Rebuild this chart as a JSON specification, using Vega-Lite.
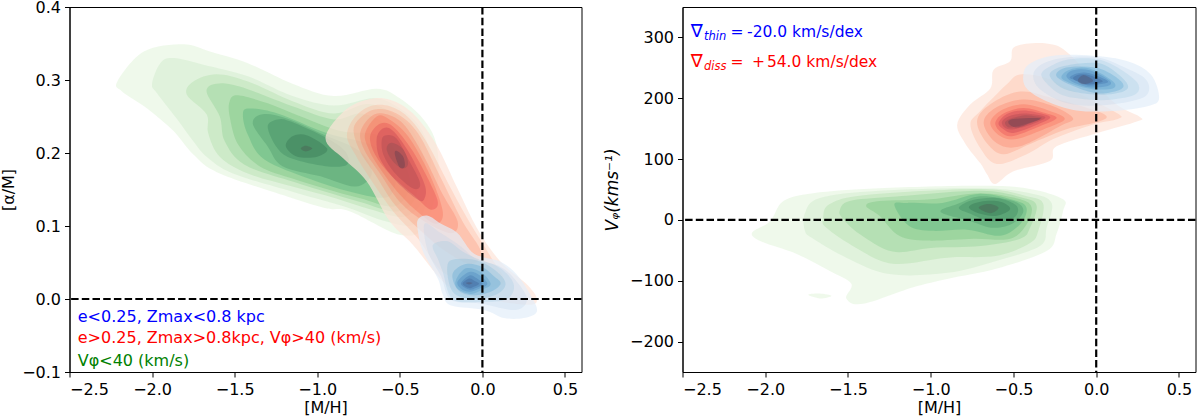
{"$schema":"https://vega.github.io/schema/vega-lite/v6.json","background":"white","padding":{"left":-0.5,"right":2,"top":-2,"bottom":0},"spacing":19,
"config":{"font":"DejaVu Sans","view":{"stroke":"black","strokeWidth":1},"axis":{"grid":false,"domainColor":"black","tickColor":"black","tickSize":5,"domainWidth":1,"tickWidth":1,"labelColor":"black","titleColor":"black","labelFont":"DejaVu Sans","titleFont":"DejaVu Sans","labelFontSize":16,"titleFontSize":16,"titleFontWeight":"normal","labelPadding":4,"titlePadding":2}},
"datasets":{
"L":[
{"k":"G1","x":-2.21,"y":0.298},{"k":"G1","x":-2.05,"y":0.339},{"k":"G1","x":-1.81,"y":0.349},{"k":"G1","x":-1.65,"y":0.339},{"k":"G1","x":-1.42,"y":0.323},{"k":"G1","x":-1.15,"y":0.295},{"k":"G1","x":-0.9,"y":0.278},{"k":"G1","x":-0.64,"y":0.288},{"k":"G1","x":-0.5,"y":0.275},{"k":"G1","x":-0.36,"y":0.247},{"k":"G1","x":-0.28,"y":0.213},{"k":"G1","x":-0.27,"y":0.161},{"k":"G1","x":-0.35,"y":0.099},{"k":"G1","x":-0.5,"y":0.088},{"k":"G1","x":-0.8,"y":0.12},{"k":"G1","x":-0.94,"y":0.124},{"k":"G1","x":-1.15,"y":0.138},{"k":"G1","x":-1.59,"y":0.172},{"k":"G1","x":-1.75,"y":0.198},{"k":"G1","x":-1.87,"y":0.23},{"k":"G1","x":-2.03,"y":0.261},{"k":"G1","x":-2.18,"y":0.284},
{"k":"G2","x":-2.0,"y":0.295},{"k":"G2","x":-1.95,"y":0.323},{"k":"G2","x":-1.87,"y":0.33},{"k":"G2","x":-1.69,"y":0.321},{"k":"G2","x":-1.42,"y":0.305},{"k":"G2","x":-1.15,"y":0.278},{"k":"G2","x":-0.9,"y":0.265},{"k":"G2","x":-0.66,"y":0.275},{"k":"G2","x":-0.52,"y":0.264},{"k":"G2","x":-0.39,"y":0.239},{"k":"G2","x":-0.32,"y":0.202},{"k":"G2","x":-0.32,"y":0.147},{"k":"G2","x":-0.41,"y":0.103},{"k":"G2","x":-0.58,"y":0.106},{"k":"G2","x":-0.84,"y":0.127},{"k":"G2","x":-1.15,"y":0.147},{"k":"G2","x":-1.51,"y":0.172},{"k":"G2","x":-1.67,"y":0.195},{"k":"G2","x":-1.75,"y":0.216},{"k":"G2","x":-1.85,"y":0.247},{"k":"G2","x":-1.97,"y":0.282},
{"k":"G3","x":-1.79,"y":0.28},{"k":"G3","x":-1.75,"y":0.298},{"k":"G3","x":-1.61,"y":0.308},{"k":"G3","x":-1.42,"y":0.298},{"k":"G3","x":-1.15,"y":0.271},{"k":"G3","x":-0.9,"y":0.254},{"k":"G3","x":-0.7,"y":0.267},{"k":"G3","x":-0.54,"y":0.254},{"k":"G3","x":-0.42,"y":0.23},{"k":"G3","x":-0.35,"y":0.188},{"k":"G3","x":-0.35,"y":0.14},{"k":"G3","x":-0.47,"y":0.113},{"k":"G3","x":-0.68,"y":0.123},{"k":"G3","x":-0.89,"y":0.138},{"k":"G3","x":-1.15,"y":0.154},{"k":"G3","x":-1.42,"y":0.172},{"k":"G3","x":-1.59,"y":0.195},{"k":"G3","x":-1.66,"y":0.227},{"k":"G3","x":-1.67,"y":0.253},
{"k":"G4","x":-1.67,"y":0.284},{"k":"G4","x":-1.61,"y":0.295},{"k":"G4","x":-1.47,"y":0.291},{"k":"G4","x":-1.15,"y":0.264},{"k":"G4","x":-0.9,"y":0.246},{"k":"G4","x":-0.74,"y":0.254},{"k":"G4","x":-0.59,"y":0.24},{"k":"G4","x":-0.47,"y":0.209},{"k":"G4","x":-0.39,"y":0.168},{"k":"G4","x":-0.42,"y":0.133},{"k":"G4","x":-0.53,"y":0.12},{"k":"G4","x":-0.74,"y":0.133},{"k":"G4","x":-0.95,"y":0.147},{"k":"G4","x":-1.15,"y":0.161},{"k":"G4","x":-1.44,"y":0.184},{"k":"G4","x":-1.56,"y":0.216},{"k":"G4","x":-1.59,"y":0.25},
{"k":"G5","x":-1.53,"y":0.271},{"k":"G5","x":-1.48,"y":0.279},{"k":"G5","x":-1.3,"y":0.268},{"k":"G5","x":-1.1,"y":0.25},{"k":"G5","x":-0.86,"y":0.23},{"k":"G5","x":-0.62,"y":0.223},{"k":"G5","x":-0.48,"y":0.188},{"k":"G5","x":-0.44,"y":0.154},{"k":"G5","x":-0.53,"y":0.127},{"k":"G5","x":-0.74,"y":0.138},{"k":"G5","x":-0.95,"y":0.151},{"k":"G5","x":-1.15,"y":0.165},{"k":"G5","x":-1.35,"y":0.182},{"k":"G5","x":-1.48,"y":0.212},{"k":"G5","x":-1.53,"y":0.25},
{"k":"G6","x":-1.45,"y":0.253},{"k":"G6","x":-1.41,"y":0.261},{"k":"G6","x":-1.24,"y":0.254},{"k":"G6","x":-0.94,"y":0.227},{"k":"G6","x":-0.65,"y":0.209},{"k":"G6","x":-0.53,"y":0.175},{"k":"G6","x":-0.57,"y":0.14},{"k":"G6","x":-0.8,"y":0.147},{"k":"G6","x":-1.04,"y":0.164},{"k":"G6","x":-1.32,"y":0.191},{"k":"G6","x":-1.42,"y":0.225},
{"k":"G7","x":-1.39,"y":0.24},{"k":"G7","x":-1.33,"y":0.253},{"k":"G7","x":-1.18,"y":0.247},{"k":"G7","x":-0.96,"y":0.225},{"k":"G7","x":-0.74,"y":0.202},{"k":"G7","x":-0.67,"y":0.172},{"k":"G7","x":-0.77,"y":0.154},{"k":"G7","x":-0.98,"y":0.168},{"k":"G7","x":-1.21,"y":0.182},{"k":"G7","x":-1.3,"y":0.209},
{"k":"G8","x":-1.3,"y":0.236},{"k":"G8","x":-1.24,"y":0.246},{"k":"G8","x":-1.16,"y":0.243},{"k":"G8","x":-0.94,"y":0.22},{"k":"G8","x":-0.83,"y":0.202},{"k":"G8","x":-0.82,"y":0.184},{"k":"G8","x":-0.95,"y":0.182},{"k":"G8","x":-1.15,"y":0.192},{"k":"G8","x":-1.24,"y":0.206},
{"k":"G9","x":-1.19,"y":0.209},{"k":"G9","x":-1.15,"y":0.223},{"k":"G9","x":-1.06,"y":0.224},{"k":"G9","x":-0.94,"y":0.206},{"k":"G9","x":-1.0,"y":0.195},{"k":"G9","x":-1.12,"y":0.195},
{"k":"G10","x":-1.1,"y":0.206},{"k":"G10","x":-1.07,"y":0.21},{"k":"G10","x":-1.03,"y":0.206},{"k":"G10","x":-1.07,"y":0.202},
{"k":"R1","x":-0.95,"y":0.22},{"k":"R1","x":-0.84,"y":0.257},{"k":"R1","x":-0.7,"y":0.273},{"k":"R1","x":-0.56,"y":0.273},{"k":"R1","x":-0.42,"y":0.254},{"k":"R1","x":-0.28,"y":0.212},{"k":"R1","x":-0.15,"y":0.151},{"k":"R1","x":-0.03,"y":0.096},{"k":"R1","x":0.11,"y":0.051},{"k":"R1","x":0.27,"y":0.02},{"k":"R1","x":0.33,"y":0},{"k":"R1","x":0.28,"y":-0.008},{"k":"R1","x":0.05,"y":-0.001},{"k":"R1","x":-0.19,"y":0.014},{"k":"R1","x":-0.42,"y":0.074},{"k":"R1","x":-0.56,"y":0.106},{"k":"R1","x":-0.7,"y":0.161},{"k":"R1","x":-0.84,"y":0.192},
{"k":"R2","x":-0.82,"y":0.223},{"k":"R2","x":-0.78,"y":0.247},{"k":"R2","x":-0.68,"y":0.264},{"k":"R2","x":-0.56,"y":0.264},{"k":"R2","x":-0.44,"y":0.247},{"k":"R2","x":-0.33,"y":0.212},{"k":"R2","x":-0.19,"y":0.151},{"k":"R2","x":-0.07,"y":0.102},{"k":"R2","x":0.05,"y":0.058},{"k":"R2","x":0.13,"y":0.024},{"k":"R2","x":-0.01,"y":0.017},{"k":"R2","x":-0.24,"y":0.037},{"k":"R2","x":-0.39,"y":0.083},{"k":"R2","x":-0.54,"y":0.12},{"k":"R2","x":-0.68,"y":0.165},{"k":"R2","x":-0.77,"y":0.198},
{"k":"R3","x":-0.78,"y":0.232},{"k":"R3","x":-0.73,"y":0.25},{"k":"R3","x":-0.64,"y":0.26},{"k":"R3","x":-0.52,"y":0.254},{"k":"R3","x":-0.39,"y":0.227},{"k":"R3","x":-0.25,"y":0.165},{"k":"R3","x":-0.12,"y":0.106},{"k":"R3","x":-0.01,"y":0.065},{"k":"R3","x":-0.07,"y":0.048},{"k":"R3","x":-0.22,"y":0.065},{"k":"R3","x":-0.38,"y":0.095},{"k":"R3","x":-0.53,"y":0.129},{"k":"R3","x":-0.65,"y":0.171},{"k":"R3","x":-0.74,"y":0.202},
{"k":"R4","x":-0.74,"y":0.227},{"k":"R4","x":-0.68,"y":0.249},{"k":"R4","x":-0.6,"y":0.254},{"k":"R4","x":-0.48,"y":0.24},{"k":"R4","x":-0.36,"y":0.198},{"k":"R4","x":-0.24,"y":0.143},{"k":"R4","x":-0.15,"y":0.106},{"k":"R4","x":-0.19,"y":0.09},{"k":"R4","x":-0.35,"y":0.106},{"k":"R4","x":-0.5,"y":0.133},{"k":"R4","x":-0.62,"y":0.172},{"k":"R4","x":-0.71,"y":0.202},
{"k":"R5","x":-0.71,"y":0.227},{"k":"R5","x":-0.64,"y":0.25},{"k":"R5","x":-0.57,"y":0.247},{"k":"R5","x":-0.45,"y":0.223},{"k":"R5","x":-0.32,"y":0.171},{"k":"R5","x":-0.24,"y":0.12},{"k":"R5","x":-0.28,"y":0.103},{"k":"R5","x":-0.38,"y":0.117},{"k":"R5","x":-0.5,"y":0.143},{"k":"R5","x":-0.63,"y":0.182},{"k":"R5","x":-0.69,"y":0.206},
{"k":"R6","x":-0.68,"y":0.223},{"k":"R6","x":-0.62,"y":0.24},{"k":"R6","x":-0.54,"y":0.236},{"k":"R6","x":-0.42,"y":0.202},{"k":"R6","x":-0.3,"y":0.151},{"k":"R6","x":-0.27,"y":0.129},{"k":"R6","x":-0.32,"y":0.123},{"k":"R6","x":-0.42,"y":0.143},{"k":"R6","x":-0.56,"y":0.171},{"k":"R6","x":-0.65,"y":0.198},
{"k":"R7","x":-0.64,"y":0.22},{"k":"R7","x":-0.6,"y":0.234},{"k":"R7","x":-0.54,"y":0.23},{"k":"R7","x":-0.44,"y":0.199},{"k":"R7","x":-0.35,"y":0.157},{"k":"R7","x":-0.35,"y":0.138},{"k":"R7","x":-0.39,"y":0.136},{"k":"R7","x":-0.52,"y":0.161},{"k":"R7","x":-0.62,"y":0.192},
{"k":"R8","x":-0.61,"y":0.216},{"k":"R8","x":-0.59,"y":0.224},{"k":"R8","x":-0.52,"y":0.22},{"k":"R8","x":-0.44,"y":0.188},{"k":"R8","x":-0.38,"y":0.161},{"k":"R8","x":-0.39,"y":0.151},{"k":"R8","x":-0.44,"y":0.154},{"k":"R8","x":-0.54,"y":0.175},{"k":"R8","x":-0.6,"y":0.198},
{"k":"R9","x":-0.58,"y":0.205},{"k":"R9","x":-0.55,"y":0.214},{"k":"R9","x":-0.48,"y":0.205},{"k":"R9","x":-0.45,"y":0.186},{"k":"R9","x":-0.48,"y":0.179},{"k":"R9","x":-0.54,"y":0.188},
{"k":"R10","x":-0.53,"y":0.198},{"k":"R10","x":-0.52,"y":0.203},{"k":"R10","x":-0.48,"y":0.195},{"k":"R10","x":-0.47,"y":0.182},{"k":"R10","x":-0.5,"y":0.18},
{"k":"B1","x":-0.39,"y":0.109},{"k":"B1","x":-0.33,"y":0.114},{"k":"B1","x":-0.25,"y":0.103},{"k":"B1","x":-0.15,"y":0.09},{"k":"B1","x":-0.05,"y":0.062},{"k":"B1","x":0.11,"y":0.051},{"k":"B1","x":0.21,"y":0.033},{"k":"B1","x":0.29,"y":0.006},{"k":"B1","x":0.33,"y":-0.017},{"k":"B1","x":0.25,"y":-0.026},{"k":"B1","x":0.13,"y":-0.026},{"k":"B1","x":0.01,"y":-0.015},{"k":"B1","x":-0.19,"y":-0.009},{"k":"B1","x":-0.24,"y":0.006},{"k":"B1","x":-0.27,"y":0.028},{"k":"B1","x":-0.36,"y":0.065},{"k":"B1","x":-0.39,"y":0.092},
{"k":"B2","x":-0.35,"y":0.103},{"k":"B2","x":-0.25,"y":0.09},{"k":"B2","x":-0.13,"y":0.072},{"k":"B2","x":-0.04,"y":0.055},{"k":"B2","x":0.11,"y":0.044},{"k":"B2","x":0.2,"y":0.026},{"k":"B2","x":0.27,"y":0},{"k":"B2","x":0.2,"y":-0.015},{"k":"B2","x":-0.01,"y":-0.006},{"k":"B2","x":-0.19,"y":-0.001},{"k":"B2","x":-0.25,"y":0.031},{"k":"B2","x":-0.33,"y":0.065},
{"k":"B3","x":-0.3,"y":0.074},{"k":"B3","x":-0.21,"y":0.079},{"k":"B3","x":-0.12,"y":0.065},{"k":"B3","x":-0.03,"y":0.055},{"k":"B3","x":0.11,"y":0.042},{"k":"B3","x":0.19,"y":0.02},{"k":"B3","x":0.15,"y":0},{"k":"B3","x":-0.01,"y":-0.004},{"k":"B3","x":-0.18,"y":0},{"k":"B3","x":-0.24,"y":0.037},{"k":"B3","x":-0.27,"y":0.055},
{"k":"B4","x":-0.21,"y":0.048},{"k":"B4","x":-0.12,"y":0.055},{"k":"B4","x":-0.01,"y":0.051},{"k":"B4","x":0.09,"y":0.037},{"k":"B4","x":0.14,"y":0.021},{"k":"B4","x":0.09,"y":0.007},{"k":"B4","x":-0.05,"y":0},{"k":"B4","x":-0.18,"y":0.01},
{"k":"B5","x":-0.18,"y":0.035},{"k":"B5","x":-0.1,"y":0.048},{"k":"B5","x":0,"y":0.044},{"k":"B5","x":0.07,"y":0.031},{"k":"B5","x":0.11,"y":0.021},{"k":"B5","x":0.05,"y":0.01},{"k":"B5","x":-0.06,"y":0.005},{"k":"B5","x":-0.15,"y":0.013},
{"k":"B6","x":-0.16,"y":0.026},{"k":"B6","x":-0.1,"y":0.042},{"k":"B6","x":-0.01,"y":0.037},{"k":"B6","x":0.05,"y":0.021},{"k":"B6","x":0,"y":0.013},{"k":"B6","x":-0.07,"y":0.007},{"k":"B6","x":-0.15,"y":0.014},
{"k":"B7","x":-0.15,"y":0.024},{"k":"B7","x":-0.08,"y":0.037},{"k":"B7","x":-0.02,"y":0.033},{"k":"B7","x":0.03,"y":0.021},{"k":"B7","x":-0.02,"y":0.014},{"k":"B7","x":-0.08,"y":0.01},{"k":"B7","x":-0.13,"y":0.014},
{"k":"B8","x":-0.13,"y":0.021},{"k":"B8","x":-0.08,"y":0.032},{"k":"B8","x":-0.04,"y":0.029},{"k":"B8","x":0,"y":0.021},{"k":"B8","x":-0.04,"y":0.015},{"k":"B8","x":-0.08,"y":0.013},
{"k":"B9","x":-0.12,"y":0.021},{"k":"B9","x":-0.08,"y":0.028},{"k":"B9","x":-0.05,"y":0.025},{"k":"B9","x":-0.02,"y":0.021},{"k":"B9","x":-0.05,"y":0.017},{"k":"B9","x":-0.08,"y":0.015},
{"k":"B10","x":-0.1,"y":0.022},{"k":"B10","x":-0.08,"y":0.023},{"k":"B10","x":-0.06,"y":0.022},{"k":"B10","x":-0.08,"y":0.02}
],
"R":[
{"k":"G1","x":-2.08,"y":-21},{"k":"G1","x":-1.97,"y":-2},{"k":"G1","x":-1.89,"y":31},{"k":"G1","x":-1.71,"y":44},{"k":"G1","x":-1.31,"y":52},{"k":"G1","x":-0.7,"y":56},{"k":"G1","x":-0.4,"y":51},{"k":"G1","x":-0.2,"y":34},{"k":"G1","x":-0.2,"y":15},{"k":"G1","x":-0.24,"y":-23},{"k":"G1","x":-0.3,"y":-51},{"k":"G1","x":-0.6,"y":-80},{"k":"G1","x":-0.9,"y":-97},{"k":"G1","x":-1.11,"y":-111},{"k":"G1","x":-1.41,"y":-138},{"k":"G1","x":-1.51,"y":-129},{"k":"G1","x":-1.48,"y":-105},{"k":"G1","x":-1.61,"y":-84},{"k":"G1","x":-1.81,"y":-56},{"k":"G1","x":-2.02,"y":-36},
{"k":"G1b","x":-1.74,"y":-123},{"k":"G1b","x":-1.67,"y":-121},{"k":"G1b","x":-1.6,"y":-125},{"k":"G1b","x":-1.67,"y":-129},
{"k":"G2","x":-1.76,"y":-18},{"k":"G2","x":-1.76,"y":11},{"k":"G2","x":-1.67,"y":36},{"k":"G2","x":-1.31,"y":48},{"k":"G2","x":-0.7,"y":52},{"k":"G2","x":-0.4,"y":44},{"k":"G2","x":-0.27,"y":28},{"k":"G2","x":-0.3,"y":-13},{"k":"G2","x":-0.34,"y":-43},{"k":"G2","x":-0.6,"y":-67},{"k":"G2","x":-0.9,"y":-87},{"k":"G2","x":-1.25,"y":-89},{"k":"G2","x":-1.51,"y":-62},{"k":"G2","x":-1.71,"y":-31},
{"k":"G3","x":-1.65,"y":3},{"k":"G3","x":-1.61,"y":26},{"k":"G3","x":-1.39,"y":41},{"k":"G3","x":-0.7,"y":51},{"k":"G3","x":-0.42,"y":39},{"k":"G3","x":-0.32,"y":26},{"k":"G3","x":-0.35,"y":-18},{"k":"G3","x":-0.4,"y":-38},{"k":"G3","x":-0.6,"y":-59},{"k":"G3","x":-0.9,"y":-62},{"k":"G3","x":-1.23,"y":-72},{"k":"G3","x":-1.45,"y":-46},{"k":"G3","x":-1.63,"y":-13},
{"k":"G4","x":-1.55,"y":15},{"k":"G4","x":-1.49,"y":31},{"k":"G4","x":-1.23,"y":38},{"k":"G4","x":-0.7,"y":48},{"k":"G4","x":-0.44,"y":36},{"k":"G4","x":-0.36,"y":23},{"k":"G4","x":-0.4,"y":-13},{"k":"G4","x":-0.46,"y":-31},{"k":"G4","x":-0.7,"y":-43},{"k":"G4","x":-1.0,"y":-46},{"k":"G4","x":-1.23,"y":-52},{"k":"G4","x":-1.43,"y":-23},{"k":"G4","x":-1.53,"y":2},
{"k":"G5","x":-1.39,"y":23},{"k":"G5","x":-1.31,"y":31},{"k":"G5","x":-1.0,"y":34},{"k":"G5","x":-0.7,"y":44},{"k":"G5","x":-0.46,"y":34},{"k":"G5","x":-0.39,"y":20},{"k":"G5","x":-0.42,"y":-7},{"k":"G5","x":-0.52,"y":-31},{"k":"G5","x":-0.74,"y":-31},{"k":"G5","x":-1.02,"y":-34},{"k":"G5","x":-1.19,"y":-26},{"k":"G5","x":-1.31,"y":7},
{"k":"G6","x":-1.22,"y":25},{"k":"G6","x":-1.14,"y":28},{"k":"G6","x":-0.93,"y":28},{"k":"G6","x":-0.7,"y":43},{"k":"G6","x":-0.48,"y":31},{"k":"G6","x":-0.42,"y":18},{"k":"G6","x":-0.46,"y":-7},{"k":"G6","x":-0.58,"y":-26},{"k":"G6","x":-0.78,"y":-16},{"k":"G6","x":-0.99,"y":-18},{"k":"G6","x":-1.13,"y":-10},
{"k":"G7","x":-0.94,"y":13},{"k":"G7","x":-0.84,"y":26},{"k":"G7","x":-0.7,"y":39},{"k":"G7","x":-0.5,"y":31},{"k":"G7","x":-0.44,"y":15},{"k":"G7","x":-0.5,"y":-5},{"k":"G7","x":-0.62,"y":-13},{"k":"G7","x":-0.76,"y":-2},
{"k":"G8","x":-0.83,"y":20},{"k":"G8","x":-0.74,"y":33},{"k":"G8","x":-0.6,"y":36},{"k":"G8","x":-0.48,"y":23},{"k":"G8","x":-0.5,"y":3},{"k":"G8","x":-0.64,"y":-2},{"k":"G8","x":-0.76,"y":10},
{"k":"G9","x":-0.77,"y":21},{"k":"G9","x":-0.7,"y":30},{"k":"G9","x":-0.58,"y":30},{"k":"G9","x":-0.52,"y":18},{"k":"G9","x":-0.6,"y":7},{"k":"G9","x":-0.7,"y":10},
{"k":"G10","x":-0.71,"y":20},{"k":"G10","x":-0.65,"y":26},{"k":"G10","x":-0.59,"y":20},{"k":"G10","x":-0.64,"y":11},
{"k":"R1","x":-0.84,"y":157},{"k":"R1","x":-0.76,"y":190},{"k":"R1","x":-0.64,"y":216},{"k":"R1","x":-0.62,"y":247},{"k":"R1","x":-0.52,"y":261},{"k":"R1","x":-0.49,"y":285},{"k":"R1","x":-0.3,"y":290},{"k":"R1","x":-0.16,"y":272},{"k":"R1","x":0.1,"y":195},{"k":"R1","x":0.26,"y":170},{"k":"R1","x":0.25,"y":162},{"k":"R1","x":0.01,"y":143},{"k":"R1","x":-0.24,"y":121},{"k":"R1","x":-0.28,"y":97},{"k":"R1","x":-0.5,"y":80},{"k":"R1","x":-0.61,"y":59},{"k":"R1","x":-0.66,"y":75},{"k":"R1","x":-0.7,"y":93},{"k":"R1","x":-0.79,"y":125},
{"k":"R2","x":-0.76,"y":157},{"k":"R2","x":-0.7,"y":179},{"k":"R2","x":-0.54,"y":223},{"k":"R2","x":-0.46,"y":239},{"k":"R2","x":-0.3,"y":233},{"k":"R2","x":-0.1,"y":207},{"k":"R2","x":0.13,"y":175},{"k":"R2","x":0.13,"y":166},{"k":"R2","x":-0.02,"y":157},{"k":"R2","x":-0.26,"y":133},{"k":"R2","x":-0.42,"y":108},{"k":"R2","x":-0.6,"y":92},{"k":"R2","x":-0.7,"y":118},
{"k":"R3","x":-0.72,"y":162},{"k":"R3","x":-0.64,"y":190},{"k":"R3","x":-0.46,"y":211},{"k":"R3","x":-0.26,"y":200},{"k":"R3","x":0.04,"y":175},{"k":"R3","x":0.02,"y":162},{"k":"R3","x":-0.18,"y":149},{"k":"R3","x":-0.4,"y":125},{"k":"R3","x":-0.56,"y":108},{"k":"R3","x":-0.66,"y":126},
{"k":"R4","x":-0.68,"y":159},{"k":"R4","x":-0.61,"y":184},{"k":"R4","x":-0.44,"y":198},{"k":"R4","x":-0.26,"y":187},{"k":"R4","x":-0.14,"y":167},{"k":"R4","x":-0.22,"y":154},{"k":"R4","x":-0.46,"y":121},{"k":"R4","x":-0.6,"y":126},
{"k":"R5","x":-0.64,"y":159},{"k":"R5","x":-0.58,"y":179},{"k":"R5","x":-0.44,"y":190},{"k":"R5","x":-0.28,"y":179},{"k":"R5","x":-0.19,"y":166},{"k":"R5","x":-0.3,"y":151},{"k":"R5","x":-0.48,"y":133},{"k":"R5","x":-0.58,"y":138},
{"k":"R6","x":-0.61,"y":159},{"k":"R6","x":-0.56,"y":175},{"k":"R6","x":-0.44,"y":184},{"k":"R6","x":-0.3,"y":175},{"k":"R6","x":-0.24,"y":167},{"k":"R6","x":-0.34,"y":154},{"k":"R6","x":-0.5,"y":138},{"k":"R6","x":-0.57,"y":143},
{"k":"R7","x":-0.59,"y":159},{"k":"R7","x":-0.54,"y":174},{"k":"R7","x":-0.44,"y":180},{"k":"R7","x":-0.32,"y":174},{"k":"R7","x":-0.28,"y":167},{"k":"R7","x":-0.38,"y":154},{"k":"R7","x":-0.5,"y":143},{"k":"R7","x":-0.56,"y":149},
{"k":"R8","x":-0.57,"y":161},{"k":"R8","x":-0.53,"y":170},{"k":"R8","x":-0.44,"y":175},{"k":"R8","x":-0.34,"y":172},{"k":"R8","x":-0.31,"y":167},{"k":"R8","x":-0.4,"y":156},{"k":"R8","x":-0.5,"y":149},{"k":"R8","x":-0.55,"y":151},
{"k":"R9","x":-0.55,"y":161},{"k":"R9","x":-0.51,"y":167},{"k":"R9","x":-0.43,"y":172},{"k":"R9","x":-0.36,"y":170},{"k":"R9","x":-0.33,"y":167},{"k":"R9","x":-0.41,"y":159},{"k":"R9","x":-0.51,"y":152},{"k":"R9","x":-0.54,"y":154},
{"k":"R10","x":-0.53,"y":159},{"k":"R10","x":-0.5,"y":166},{"k":"R10","x":-0.34,"y":167},{"k":"R10","x":-0.4,"y":159},{"k":"R10","x":-0.48,"y":152},
{"k":"B1","x":-0.44,"y":239},{"k":"B1","x":-0.4,"y":257},{"k":"B1","x":-0.26,"y":270},{"k":"B1","x":-0.02,"y":270},{"k":"B1","x":0.19,"y":261},{"k":"B1","x":0.33,"y":239},{"k":"B1","x":0.38,"y":200},{"k":"B1","x":0.31,"y":187},{"k":"B1","x":0.1,"y":179},{"k":"B1","x":-0.12,"y":180},{"k":"B1","x":-0.3,"y":195},{"k":"B1","x":-0.42,"y":216},
{"k":"B2","x":-0.38,"y":239},{"k":"B2","x":-0.32,"y":257},{"k":"B2","x":-0.18,"y":267},{"k":"B2","x":0.01,"y":267},{"k":"B2","x":0.16,"y":252},{"k":"B2","x":0.3,"y":231},{"k":"B2","x":0.31,"y":207},{"k":"B2","x":0.21,"y":195},{"k":"B2","x":0.01,"y":188},{"k":"B2","x":-0.18,"y":192},{"k":"B2","x":-0.34,"y":215},
{"k":"B3","x":-0.33,"y":236},{"k":"B3","x":-0.28,"y":252},{"k":"B3","x":-0.16,"y":264},{"k":"B3","x":0.01,"y":264},{"k":"B3","x":0.15,"y":247},{"k":"B3","x":0.25,"y":225},{"k":"B3","x":0.24,"y":207},{"k":"B3","x":0.1,"y":198},{"k":"B3","x":-0.05,"y":198},{"k":"B3","x":-0.22,"y":207},
{"k":"B4","x":-0.28,"y":236},{"k":"B4","x":-0.24,"y":249},{"k":"B4","x":-0.1,"y":257},{"k":"B4","x":0.04,"y":256},{"k":"B4","x":0.16,"y":233},{"k":"B4","x":0.19,"y":216},{"k":"B4","x":0.1,"y":207},{"k":"B4","x":-0.05,"y":207},{"k":"B4","x":-0.2,"y":216},
{"k":"B5","x":-0.24,"y":236},{"k":"B5","x":-0.2,"y":249},{"k":"B5","x":-0.08,"y":252},{"k":"B5","x":0.04,"y":247},{"k":"B5","x":0.15,"y":228},{"k":"B5","x":0.15,"y":215},{"k":"B5","x":0.01,"y":208},{"k":"B5","x":-0.14,"y":220},
{"k":"B6","x":-0.21,"y":234},{"k":"B6","x":-0.16,"y":247},{"k":"B6","x":-0.04,"y":249},{"k":"B6","x":0.1,"y":228},{"k":"B6","x":0.1,"y":216},{"k":"B6","x":-0.02,"y":215},{"k":"B6","x":-0.14,"y":223},
{"k":"B7","x":-0.18,"y":236},{"k":"B7","x":-0.14,"y":246},{"k":"B7","x":-0.04,"y":246},{"k":"B7","x":0.08,"y":229},{"k":"B7","x":0.07,"y":220},{"k":"B7","x":-0.04,"y":218},{"k":"B7","x":-0.13,"y":225},
{"k":"B8","x":-0.16,"y":234},{"k":"B8","x":-0.11,"y":241},{"k":"B8","x":-0.04,"y":241},{"k":"B8","x":0.07,"y":228},{"k":"B8","x":0.02,"y":223},{"k":"B8","x":-0.05,"y":221},{"k":"B8","x":-0.11,"y":228},
{"k":"B9","x":-0.14,"y":233},{"k":"B9","x":-0.1,"y":239},{"k":"B9","x":-0.04,"y":238},{"k":"B9","x":0.04,"y":228},{"k":"B9","x":-0.04,"y":223},{"k":"B9","x":-0.1,"y":226},
{"k":"B10","x":-0.11,"y":231},{"k":"B10","x":-0.08,"y":238},{"k":"B10","x":-0.04,"y":234},{"k":"B10","x":-0.02,"y":228},{"k":"B10","x":-0.07,"y":223},{"k":"B10","x":-0.1,"y":225}
]},
"hconcat":[
{"width":512,"height":365,"layer":[
{"data":{"name":"L"},"mark":{"type":"line","interpolate":"cardinal-closed","strokeWidth":0},"encoding":{
"x":{"field":"x","type":"quantitative","scale":{"domain":[-2.5,0.6],"nice":false,"zero":false},"axis":{"title":"[M/H]","values":[-2.5,-2,-1.5,-1,-0.5,0,0.5],"format":".1f"}},
"y":{"field":"y","type":"quantitative","scale":{"domain":[-0.1,0.4],"nice":false,"zero":false},"axis":{"title":"[α/M]","titlePadding":5.5,"values":[-0.1,0,0.1,0.2,0.3,0.4],"format":".1f"}},
"order":{"value":null},
"opacity":{"condition":{"test":"datum.k=='G1'||datum.k=='R1'||datum.k=='B1'","value":0.7},"value":0.25},
"fill":{"field":"k","type":"nominal","legend":null,"scale":{"domain":["G1","G2","G3","G4","G5","G6","G7","G8","G9","G10","R1","R2","R3","R4","R5","R6","R7","R8","R9","R10","B1","B2","B3","B4","B5","B6","B7","B8","B9","B10"],"range":["#e8f6e3","#b3e1af","#94d38c","#71c378","#56b560","#2a9e67","#318059","#25724f","#1f593e","#4c3a44","#fee4d8","#fea480","#fa825f","#fd684c","#f9553b","#e02b3c","#b12447","#903649","#6f464e","#2f314a","#e3eef9","#b7cfe7","#96c6de","#70b5d4","#3d96cd","#3b8abe","#346fb5","#2d5d9c","#314b83","#523543"]}}}},
{"data":{"values":[{"v":0}]},"mark":{"type":"rule","color":"black","strokeWidth":2.2,"strokeDash":[7.5,3.2]},"encoding":{"x":{"field":"v","type":"quantitative"}}},
{"data":{"values":[{"v":0}]},"mark":{"type":"rule","color":"black","strokeWidth":2.2,"strokeDash":[7.5,3.2]},"encoding":{"y":{"field":"v","type":"quantitative"}}},
{"data":{"values":[{"t":"e<0.25, Zmax<0.8 kpc","g":"thin","x":-2.45,"y":-0.024},{"t":"e>0.25, Zmax>0.8kpc, Vφ>40 (km/s)","g":"thick","x":-2.45,"y":-0.054},{"t":"Vφ<40 (km/s)","g":"halo","x":-2.45,"y":-0.085}]},"mark":{"type":"text","align":"left","baseline":"middle","fontSize":16,"font":"DejaVu Sans"},"encoding":{"x":{"field":"x","type":"quantitative"},"y":{"field":"y","type":"quantitative"},"text":{"field":"t"},"color":{"field":"g","type":"nominal","legend":null,"scale":{"domain":["thin","thick","halo"],"range":["blue","red","green"]}}}}
]},
{"width":513,"height":365,"layer":[
{"data":{"name":"R"},"mark":{"type":"line","interpolate":"cardinal-closed","strokeWidth":0},"encoding":{
"x":{"field":"x","type":"quantitative","scale":{"domain":[-2.5,0.6],"nice":false,"zero":false},"axis":{"title":"[M/H]","values":[-2.5,-2,-1.5,-1,-0.5,0,0.5],"format":".1f"}},
"y":{"field":"y","type":"quantitative","scale":{"domain":[-250,350],"nice":false,"zero":false},"axis":{"title":"Vᵩ(kms⁻¹)","titleFontStyle":"italic","titleFontSize":17,"titlePadding":8.5,"values":[-200,-100,0,100,200,300]}},
"order":{"value":null},
"opacity":{"condition":{"test":"datum.k=='G1'||datum.k=='G1b'||datum.k=='R1'||datum.k=='B1'","value":0.7},"value":0.25},
"fill":{"field":"k","type":"nominal","legend":null,"scale":{"domain":["G1","G1b","G2","G3","G4","G5","G6","G7","G8","G9","G10","R1","R2","R3","R4","R5","R6","R7","R8","R9","R10","B1","B2","B3","B4","B5","B6","B7","B8","B9","B10"],"range":["#e8f6e3","#e8f6e3","#b3e1af","#94d38c","#71c378","#56b560","#2a9e67","#318059","#25724f","#1f593e","#4c3a44","#fee4d8","#fea480","#fa825f","#fd684c","#f9553b","#e02b3c","#b12447","#903649","#6f464e","#2f314a","#e3eef9","#b7cfe7","#96c6de","#70b5d4","#3d96cd","#3b8abe","#346fb5","#2d5d9c","#314b83","#523543"]}}}},
{"data":{"values":[{"v":0}]},"mark":{"type":"rule","color":"black","strokeWidth":2.2,"strokeDash":[7.5,3.2]},"encoding":{"x":{"field":"v","type":"quantitative"}}},
{"data":{"values":[{"v":0}]},"mark":{"type":"rule","color":"black","strokeWidth":2.2,"strokeDash":[7.5,3.2]},"encoding":{"y":{"field":"v","type":"quantitative"}}},
{"data":{"values":[{"t":"=","g":"thin","x":-2.21,"y":309},{"t":"-20.0 km/s/dex","g":"thin","x":-2.11,"y":309},{"t":"=","g":"diss","x":-2.21,"y":260},{"t":"+","g":"diss","x":-2.08,"y":260},{"t":"54.0 km/s/dex","g":"diss","x":-1.99,"y":260}]},"mark":{"type":"text","align":"left","baseline":"middle","fontSize":15.5,"font":"DejaVu Sans"},"encoding":{"x":{"field":"x","type":"quantitative"},"y":{"field":"y","type":"quantitative"},"text":{"field":"t"},"color":{"field":"g","type":"nominal","legend":null,"scale":{"domain":["thin","diss"],"range":["blue","red"]}}}},
{"data":{"values":[{"t":"∇","g":"thin","x":-2.45,"y":309},{"t":"∇","g":"diss","x":-2.45,"y":260}]},"mark":{"type":"text","align":"left","baseline":"middle","fontSize":18,"font":"DejaVu Sans"},"encoding":{"x":{"field":"x","type":"quantitative"},"y":{"field":"y","type":"quantitative"},"text":{"field":"t"},"color":{"field":"g","type":"nominal","legend":null,"scale":{"domain":["thin","diss"],"range":["blue","red"]}}}},
{"data":{"values":[{"t":"thin","g":"thin","x":-2.37,"y":301},{"t":"diss","g":"diss","x":-2.37,"y":252}]},"mark":{"type":"text","align":"left","baseline":"middle","fontSize":11.5,"fontStyle":"italic","font":"DejaVu Sans"},"encoding":{"x":{"field":"x","type":"quantitative"},"y":{"field":"y","type":"quantitative"},"text":{"field":"t"},"color":{"field":"g","type":"nominal","legend":null,"scale":{"domain":["thin","diss"],"range":["blue","red"]}}}}
]}
],"resolve":{"scale":{"fill":"independent","color":"independent"}}}
